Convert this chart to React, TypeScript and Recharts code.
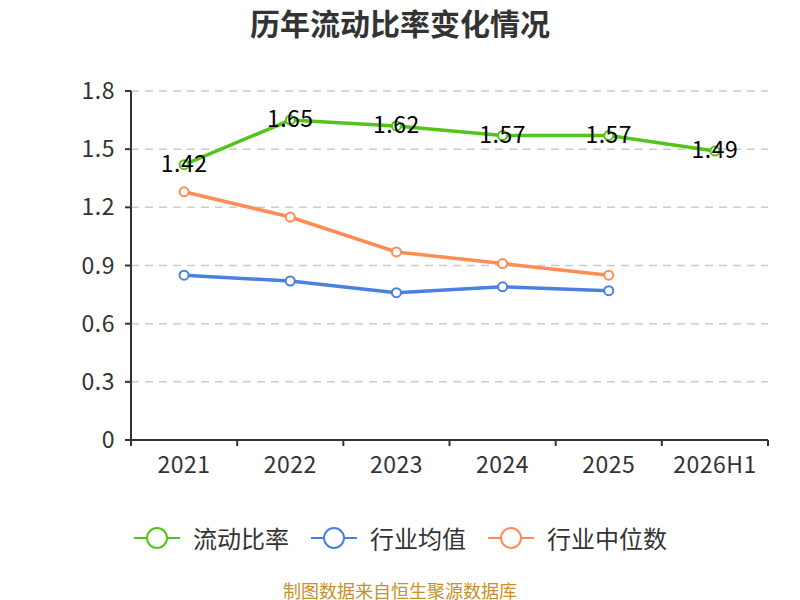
import React from "react";
import { LineChart, Line, XAxis, YAxis, CartesianGrid, LabelList } from "recharts";

const categories = ["2021", "2022", "2023", "2024", "2025", "2026H1"];
const currentRatio = [1.42, 1.65, 1.62, 1.57, 1.57, 1.49];
const industryMean = [0.85, 0.82, 0.76, 0.79, 0.77, null];
const industryMedian = [1.28, 1.15, 0.97, 0.91, 0.85, null];
const yTicks = [0, 0.3, 0.6, 0.9, 1.2, 1.5, 1.8];

const seriesNames = ["流动比率", "行业均值", "行业中位数"];
const colors = ["#52c41a", "#4a80e0", "#ff8c55"];

const data = categories.map((c, i) => ({
  name: c,
  ratio: currentRatio[i],
  mean: industryMean[i],
  median: industryMedian[i],
}));

const FONT = "'Noto Sans CJK SC', 'Noto Sans', sans-serif";
const W = 800;
const H = 600;
const margin = { top: 91, right: 32, left: 71, bottom: 130 };
const yAxisWidth = 60;
const plotWidth = W - margin.left - margin.right - yAxisWidth;
const halfBand = plotWidth / categories.length / 2;

const XTick = (props: any) => {
  const { x, y, payload, index } = props;
  const last = index === categories.length - 1;
  return (
    <g>
      <line x1={x - halfBand} y1={y - 8} x2={x - halfBand} y2={y - 2} stroke="#333" strokeWidth={2} />
      {last && (
        <line x1={x + halfBand} y1={y - 8} x2={x + halfBand} y2={y - 2} stroke="#333" strokeWidth={2} />
      )}
      <text x={x} y={y + 25} textAnchor="middle" fontSize={23} letterSpacing={0.5} fill="#333" fontFamily={FONT}>
        {payload.value}
      </text>
    </g>
  );
};

const YTick = (props: any) => {
  const { x, y, payload } = props;
  return (
    <text x={x - 8} y={y} dy={8} textAnchor="end" fontSize={23} letterSpacing={0.5} fill="#333" fontFamily={FONT}>
      {payload.value}
    </text>
  );
};

const ValueLabel = (props: any) => {
  const { x, y, value } = props;
  if (value == null) return null;
  return (
    <text x={x} y={y - 3} dominantBaseline="central" textAnchor="middle" fontSize={23} letterSpacing={0.5} fill="#000" fontFamily={FONT}>
      {value.toFixed(2)}
    </text>
  );
};

const LegendItem = ({ color, label, last }: { color: string; label: string; last: boolean }) => (
  <div style={{ display: "flex", alignItems: "center", marginRight: last ? 0 : 21 }}>
    <svg width={48} height={24} style={{ marginRight: 12 }}>
      <line x1={1} y1={12} x2={47} y2={12} stroke={color} strokeWidth={2} />
      <circle cx={24} cy={12} r={10} fill="#fff" stroke={color} strokeWidth={2} />
    </svg>
    <span style={{ fontSize: 24, color: "#333", fontFamily: FONT }}>{label}</span>
  </div>
);

export default function App() {
  const dotProps = (c: string) => ({ r: 4.5, fill: "#fff", stroke: c, strokeWidth: 2 });
  return (
    <div style={{ position: "absolute", left: 0, top: 0, width: W, height: H, background: "#fff", fontFamily: FONT }}>
      <div
        style={{
          position: "absolute",
          top: 0,
          left: 0,
          width: W,
          textAlign: "center",
          fontSize: 30,
          lineHeight: "44px",
          fontWeight: "bold",
          color: "#333",
          fontFamily: FONT,
        }}
      >
        历年流动比率变化情况
      </div>
      <LineChart width={W} height={H} data={data} margin={margin}>
        <CartesianGrid vertical={false} stroke="#ccc" strokeDasharray="8 6" strokeWidth={1.5} />
        <XAxis
          dataKey="name"
          stroke="#333"
          strokeWidth={2}
          tickLine={false}
          tick={<XTick />}
          height={30}
          interval={0}
          padding={{ left: halfBand, right: halfBand }}
        />
        <YAxis
          domain={[0, 1.8]}
          ticks={yTicks}
          stroke="#333"
          strokeWidth={2}
          tickSize={6}
          tick={<YTick />}
          width={yAxisWidth}
          interval={0}
        />
        <Line
          dataKey="median"
          stroke={colors[2]}
          strokeWidth={3.5}
          dot={dotProps(colors[2])}
          activeDot={false}
          isAnimationActive={false}
        />
        <Line
          dataKey="mean"
          stroke={colors[1]}
          strokeWidth={3.5}
          dot={dotProps(colors[1])}
          activeDot={false}
          isAnimationActive={false}
        />
        <Line
          dataKey="ratio"
          stroke={colors[0]}
          strokeWidth={3.5}
          dot={dotProps(colors[0])}
          activeDot={false}
          isAnimationActive={false}
        >
          <LabelList dataKey="ratio" content={<ValueLabel />} />
        </Line>
      </LineChart>
      <div
        style={{
          position: "absolute",
          top: 520,
          left: 0,
          width: W,
          display: "flex",
          justifyContent: "center",
        }}
      >
        {seriesNames.map((n, i) => (
          <LegendItem key={n} color={colors[i]} label={n} last={i === seriesNames.length - 1} />
        ))}
      </div>
      <div
        style={{
          position: "absolute",
          top: 579,
          left: 0,
          width: W,
          textAlign: "center",
          fontSize: 18,
          lineHeight: "22px",
          color: "#c8902a",
          fontFamily: FONT,
        }}
      >
        制图数据来自恒生聚源数据库
      </div>
    </div>
  );
}
